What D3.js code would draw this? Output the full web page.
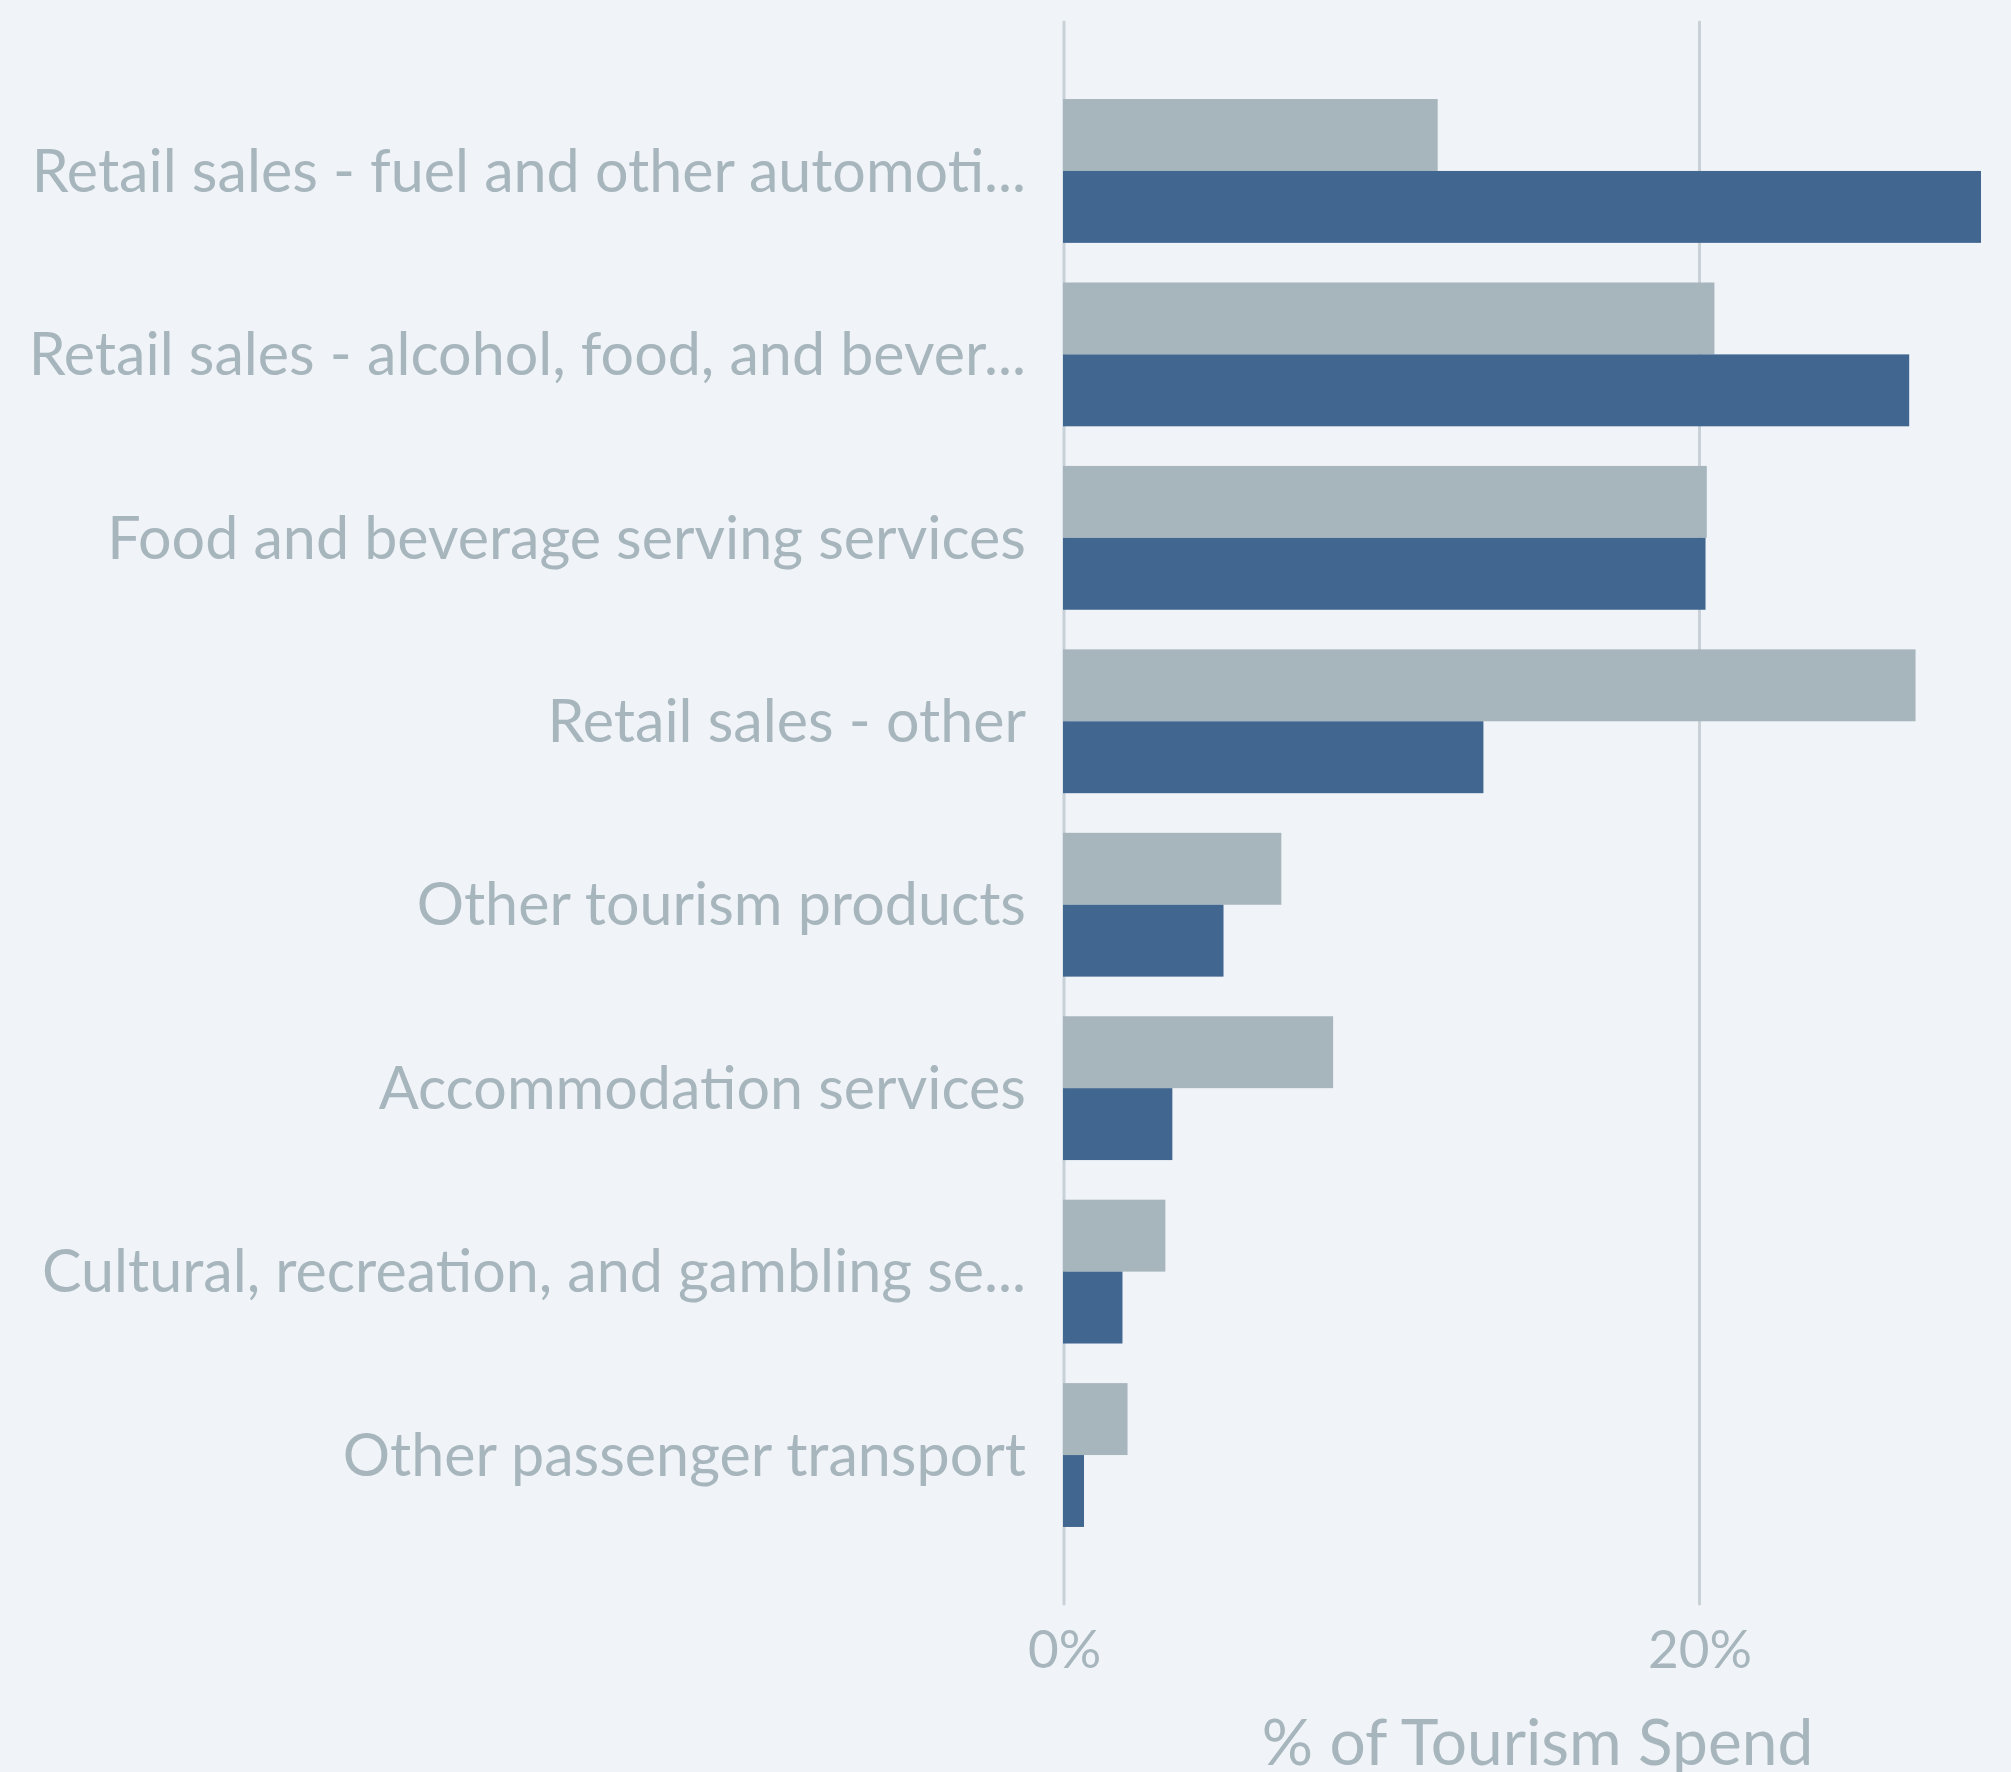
<!DOCTYPE html>
<html>
<head>
<meta charset="utf-8">
<script src="https://cdn.jsdelivr.net/npm/d3@7"></script>
<style>
  html, body { margin: 0; padding: 0; background: #f0f4f8; }
  svg { display: block; }
  text { font-family: "Segoe UI", Lato, "Open Sans", sans-serif; }
</style>
</head>
<body>
<svg id="chart" width="2011" height="1772"></svg>
<script>
const categories = [
  "Retail sales - fuel and other automoti...",
  "Retail sales - alcohol, food, and bever...",
  "Food and beverage serving services",
  "Retail sales - other",
  "Other tourism products",
  "Accommodation services",
  "Cultural, recreation, and gambling se...",
  "Other passenger transport"
];
// light grey series (top bar in each group)
const seriesGrey = [11.76, 20.47, 20.23, 26.8, 6.84, 8.47, 3.19, 2.0];
// dark blue series (bottom bar in each group)
const seriesBlue = [28.86, 26.6, 20.19, 13.2, 5.02, 3.41, 1.84, 0.63];
const tickValues = [0, 20];
const axisTitle = "% of Tourism Spend";

(function () {
const W = 2011, H = 1772;
const mLeft = 1064, mRight = 1981, mTop = 22, mBottom = 1604;
const svg = d3.select("#chart");
svg.append("rect").attr("width", W).attr("height", H).attr("fill", "#f0f4f8");

const x = d3.scaleLinear().domain([0, d3.max(seriesBlue.concat(seriesGrey))]).range([mLeft, mRight]);
const y = d3.scaleBand().domain(categories).range([mTop, mBottom]).paddingInner(0.216).paddingOuter(0.42);
const sub = d3.scaleBand().domain(["grey", "blue"]).range([0, y.bandwidth()]);

// gridlines
svg.append("g").selectAll("line").data(tickValues).join("line")
  .attr("x1", d => x(d)).attr("x2", d => x(d))
  .attr("y1", mTop).attr("y2", mBottom)
  .attr("stroke", "#c8d1d7").attr("stroke-width", 3).attr("stroke-linecap", "round");

const rows = categories.map((c, i) => ({c, grey: seriesGrey[i], blue: seriesBlue[i]}));

svg.append("g").selectAll("rect").data(rows).join("rect")
  .attr("x", x(0) - 1).attr("y", d => y(d.c) + sub("grey"))
  .attr("width", d => x(d.grey) - x(0) + 1).attr("height", sub.bandwidth())
  .attr("fill", "#a7b5bc");

svg.append("g").selectAll("rect").data(rows).join("rect")
  .attr("x", x(0) - 1).attr("y", d => y(d.c) + sub("blue"))
  .attr("width", d => x(d.blue) - x(0) + 1).attr("height", sub.bandwidth())
  .attr("fill", "#41668f");

// category labels
const yAxis = d3.axisLeft(y).tickSize(0).tickPadding(38);
const gy = svg.append("g").attr("transform", `translate(${mLeft},0)`).call(yAxis);
gy.select(".domain").remove();
gy.selectAll("text").attr("font-size", 59.2).attr("fill", "#a7b5bc").attr("dy", "0.35em")
  .style("font-family", '"Segoe UI", Lato, "Open Sans", sans-serif');

// x tick labels
const xAxis = d3.axisBottom(x).tickValues(tickValues).tickFormat(d => d + "%").tickSize(0).tickPadding(0);
const gx = svg.append("g").attr("transform", `translate(0,1668)`).call(xAxis);
gx.select(".domain").remove();
gx.selectAll("text").attr("font-size", 53).attr("fill", "#a7b5bc").attr("dy", 0)
  .style("font-family", '"Segoe UI", Lato, "Open Sans", sans-serif');

// axis title
svg.append("text").attr("x", (mLeft + mRight) / 2 + 15).attr("y", 1765)
  .attr("text-anchor", "middle").attr("font-size", 64).attr("fill", "#a7b5bc")
  .text(axisTitle);
})();
</script>
</body>
</html>
